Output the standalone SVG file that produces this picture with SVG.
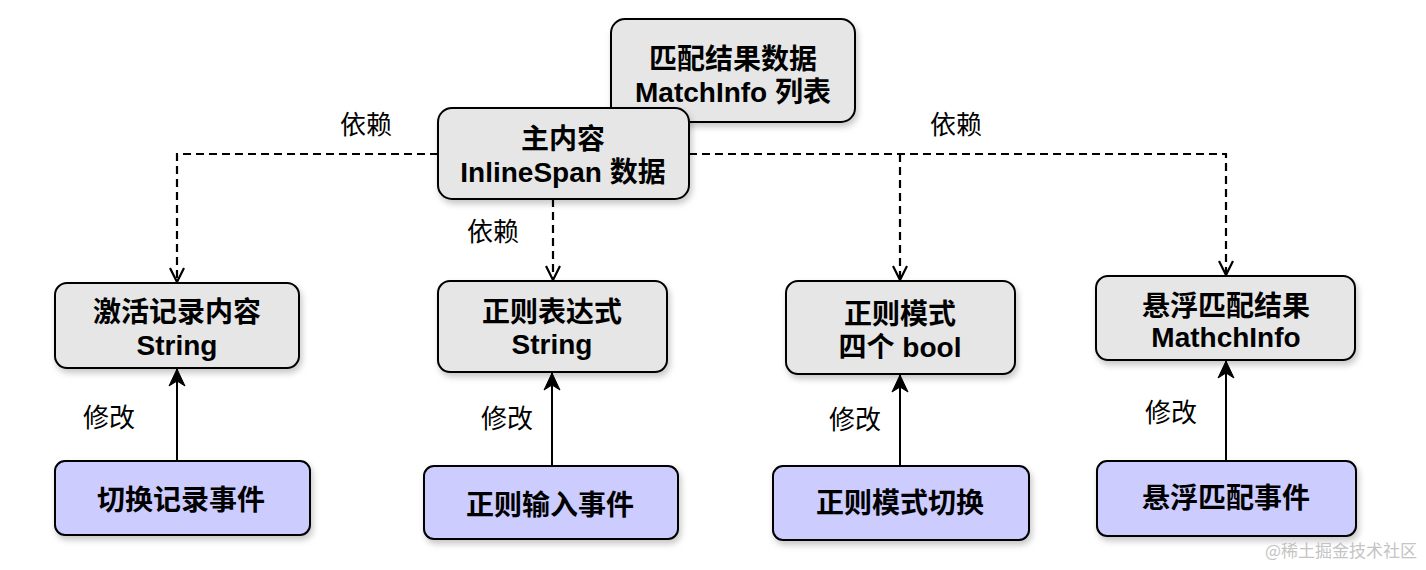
<svg xmlns="http://www.w3.org/2000/svg" width="1426" height="570" viewBox="0 0 1426 570">
<style>
.box{fill:#e6e6e6;stroke:#000;stroke-width:2;filter:url(#sh)}
.evt{fill:#ccccff;stroke:#000;stroke-width:2;filter:url(#sh)}
.t{font-family:"Liberation Sans","Noto Sans CJK SC",sans-serif;font-weight:bold;font-size:28px;text-anchor:middle;fill:#000}
.lbl{font-family:"Noto Sans CJK SC",sans-serif;font-size:26px;text-anchor:middle;fill:#000}
.dash{fill:none;stroke:#000;stroke-width:2.2;stroke-dasharray:8 5;marker-end:url(#open)}
.solid{fill:none;stroke:#000;stroke-width:2;marker-end:url(#cls)}
</style>
<defs>
<filter id="sh" x="-10%" y="-10%" width="130%" height="140%">
<feDropShadow dx="2" dy="4" stdDeviation="3" flood-color="#000" flood-opacity="0.22"/>
</filter>
<marker id="open" markerUnits="userSpaceOnUse" markerWidth="18" markerHeight="18" viewBox="-16 -9 18 18" refX="0" refY="0" orient="auto">
<path d="M-14,-7 L0,0 L-14,7" fill="none" stroke="#000" stroke-width="2.2"/>
</marker>
<marker id="cls" markerUnits="userSpaceOnUse" markerWidth="20" markerHeight="20" viewBox="-18 -10 20 20" refX="0" refY="0" orient="auto">
<path d="M0,0 L-17,-8 L-12,0 L-17,8 Z" fill="#000" stroke="#000" stroke-width="1"/>
</marker>
</defs>

<g id="connectors">
<path class="dash" d="M438,154 H177 V282"/>
<path class="dash" d="M553,199 V280"/>
<path class="dash" d="M689,154 H1226 V275"/>
<path class="dash" d="M900,154 V280"/>
<path class="solid" d="M177,461 V369"/>
<path class="solid" d="M552,466 V373"/>
<path class="solid" d="M900,466 V375"/>
<path class="solid" d="M1226,461 V361"/>
<text class="lbl" x="366" y="134">依赖</text>
<text class="lbl" x="956" y="134">依赖</text>
<text class="lbl" x="493" y="241">依赖</text>
<text class="lbl" x="109" y="427">修改</text>
<text class="lbl" x="507" y="428">修改</text>
<text class="lbl" x="855" y="429">修改</text>
<text class="lbl" x="1171" y="422">修改</text>
</g>

<g id="match-list">
<rect class="box" x="611" y="19" width="244" height="103" rx="14"/>
<text class="t" x="733" y="69">匹配结果数据</text>
<text class="t" x="733" y="102">MatchInfo 列表</text>
</g>

<g id="main-content">
<rect class="box" x="438" y="108" width="251" height="91" rx="14"/>
<text class="t" x="563" y="149">主内容</text>
<text class="t" x="563" y="182">InlineSpan 数据</text>
</g>

<g id="record-content">
<rect class="box" x="55" y="283" width="244" height="85" rx="12"/>
<text class="t" x="177" y="322">激活记录内容</text>
<text class="t" x="177" y="355">String</text>
</g>

<g id="regex-expr">
<rect class="box" x="438" y="281" width="229" height="91" rx="12"/>
<text class="t" x="552" y="322">正则表达式</text>
<text class="t" x="552" y="354">String</text>
</g>

<g id="regex-mode">
<rect class="box" x="786" y="281" width="229" height="93" rx="12"/>
<text class="t" x="900" y="324">正则模式</text>
<text class="t" x="900" y="357">四个 bool</text>
</g>

<g id="hover-result">
<rect class="box" x="1096" y="276" width="259" height="84" rx="12"/>
<text class="t" x="1226" y="316">悬浮匹配结果</text>
<text class="t" x="1226" y="347">MathchInfo</text>
</g>

<g id="toggle-record">
<rect class="evt" x="55" y="461" width="255" height="74" rx="10"/>
<text class="t" x="181" y="510">切换记录事件</text>
</g>

<g id="regex-input">
<rect class="evt" x="424" y="466" width="254" height="73" rx="10"/>
<text class="t" x="550" y="515">正则输入事件</text>
</g>

<g id="regex-mode-toggle">
<rect class="evt" x="773" y="466" width="256" height="74" rx="10"/>
<text class="t" x="900" y="513">正则模式切换</text>
</g>

<g id="hover-event">
<rect class="evt" x="1097" y="461" width="259" height="75" rx="10"/>
<text class="t" x="1226" y="508">悬浮匹配事件</text>
</g>

<text x="1341" y="557" style="font-family:'Noto Sans CJK SC',sans-serif;font-size:17px;fill:#c4c4c4;text-anchor:middle">@稀土掘金技术社区</text>
</svg>
